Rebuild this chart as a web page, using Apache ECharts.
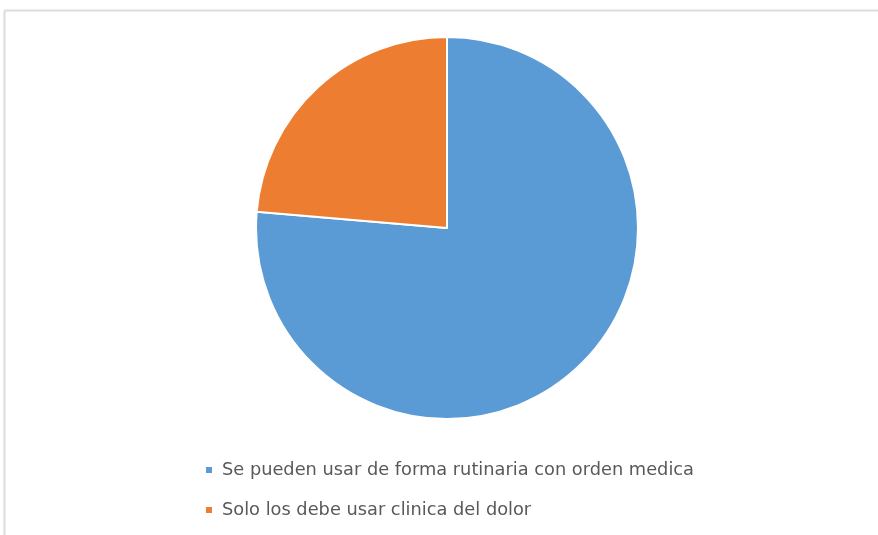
<!DOCTYPE html>
<html>
<head>
<meta charset="utf-8">
<script src="https://cdn.jsdelivr.net/npm/echarts@6/dist/echarts.min.js"></script>
<style>
  html, body { margin: 0; padding: 0; background: #fff; }
  #main { width: 878px; height: 535px; }
</style>
</head>
<body>
<div id="main"></div>
<script>
    // categorias y valores del grafico
    var categories = ['Se pueden usar de forma rutinaria con orden medica', 'Solo los debe usar clinica del dolor'];
    var values = [42, 13];
    var colors = ['#5b9bd5', '#ed7d31'];

    var chart = echarts.init(document.getElementById('main'));

    var pieData = [];
    categories.forEach(function (name, i) {
        pieData.push({ name: name, value: values[i], itemStyle: { color: colors[i] } });
    });

    var option = {
        backgroundColor: '#ffffff',
        animation: false,
        graphic: [
            { type: 'line', shape: { x1: 4.5, y1: 10.5, x2: 878, y2: 10.5 }, style: { stroke: '#dcdcdc', lineWidth: 2 } },
            { type: 'line', shape: { x1: 4.5, y1: 10.5, x2: 4.5, y2: 535 }, style: { stroke: '#dcdcdc', lineWidth: 2 } }
        ],
        legend: {
            orient: 'vertical',
            left: 199,
            top: 456,
            itemWidth: 8,
            itemHeight: 8,
            itemGap: 22,
            icon: 'rect',
            textStyle: { color: '#595959', fontSize: 17.8, fontFamily: 'DejaVu Sans', padding: [0, 0, 0, 4] },
            data: categories
        },
        series: [{
            type: 'pie',
            center: [447, 228],
            radius: 191,
            startAngle: 90,
            clockwise: true,
            label: { show: false },
            labelLine: { show: false },
            itemStyle: { borderColor: '#ffffff', borderWidth: 2 },
            emphasis: { disabled: true },
            data: pieData
        }]
    };

    chart.setOption(option);
</script>
</body>
</html>
